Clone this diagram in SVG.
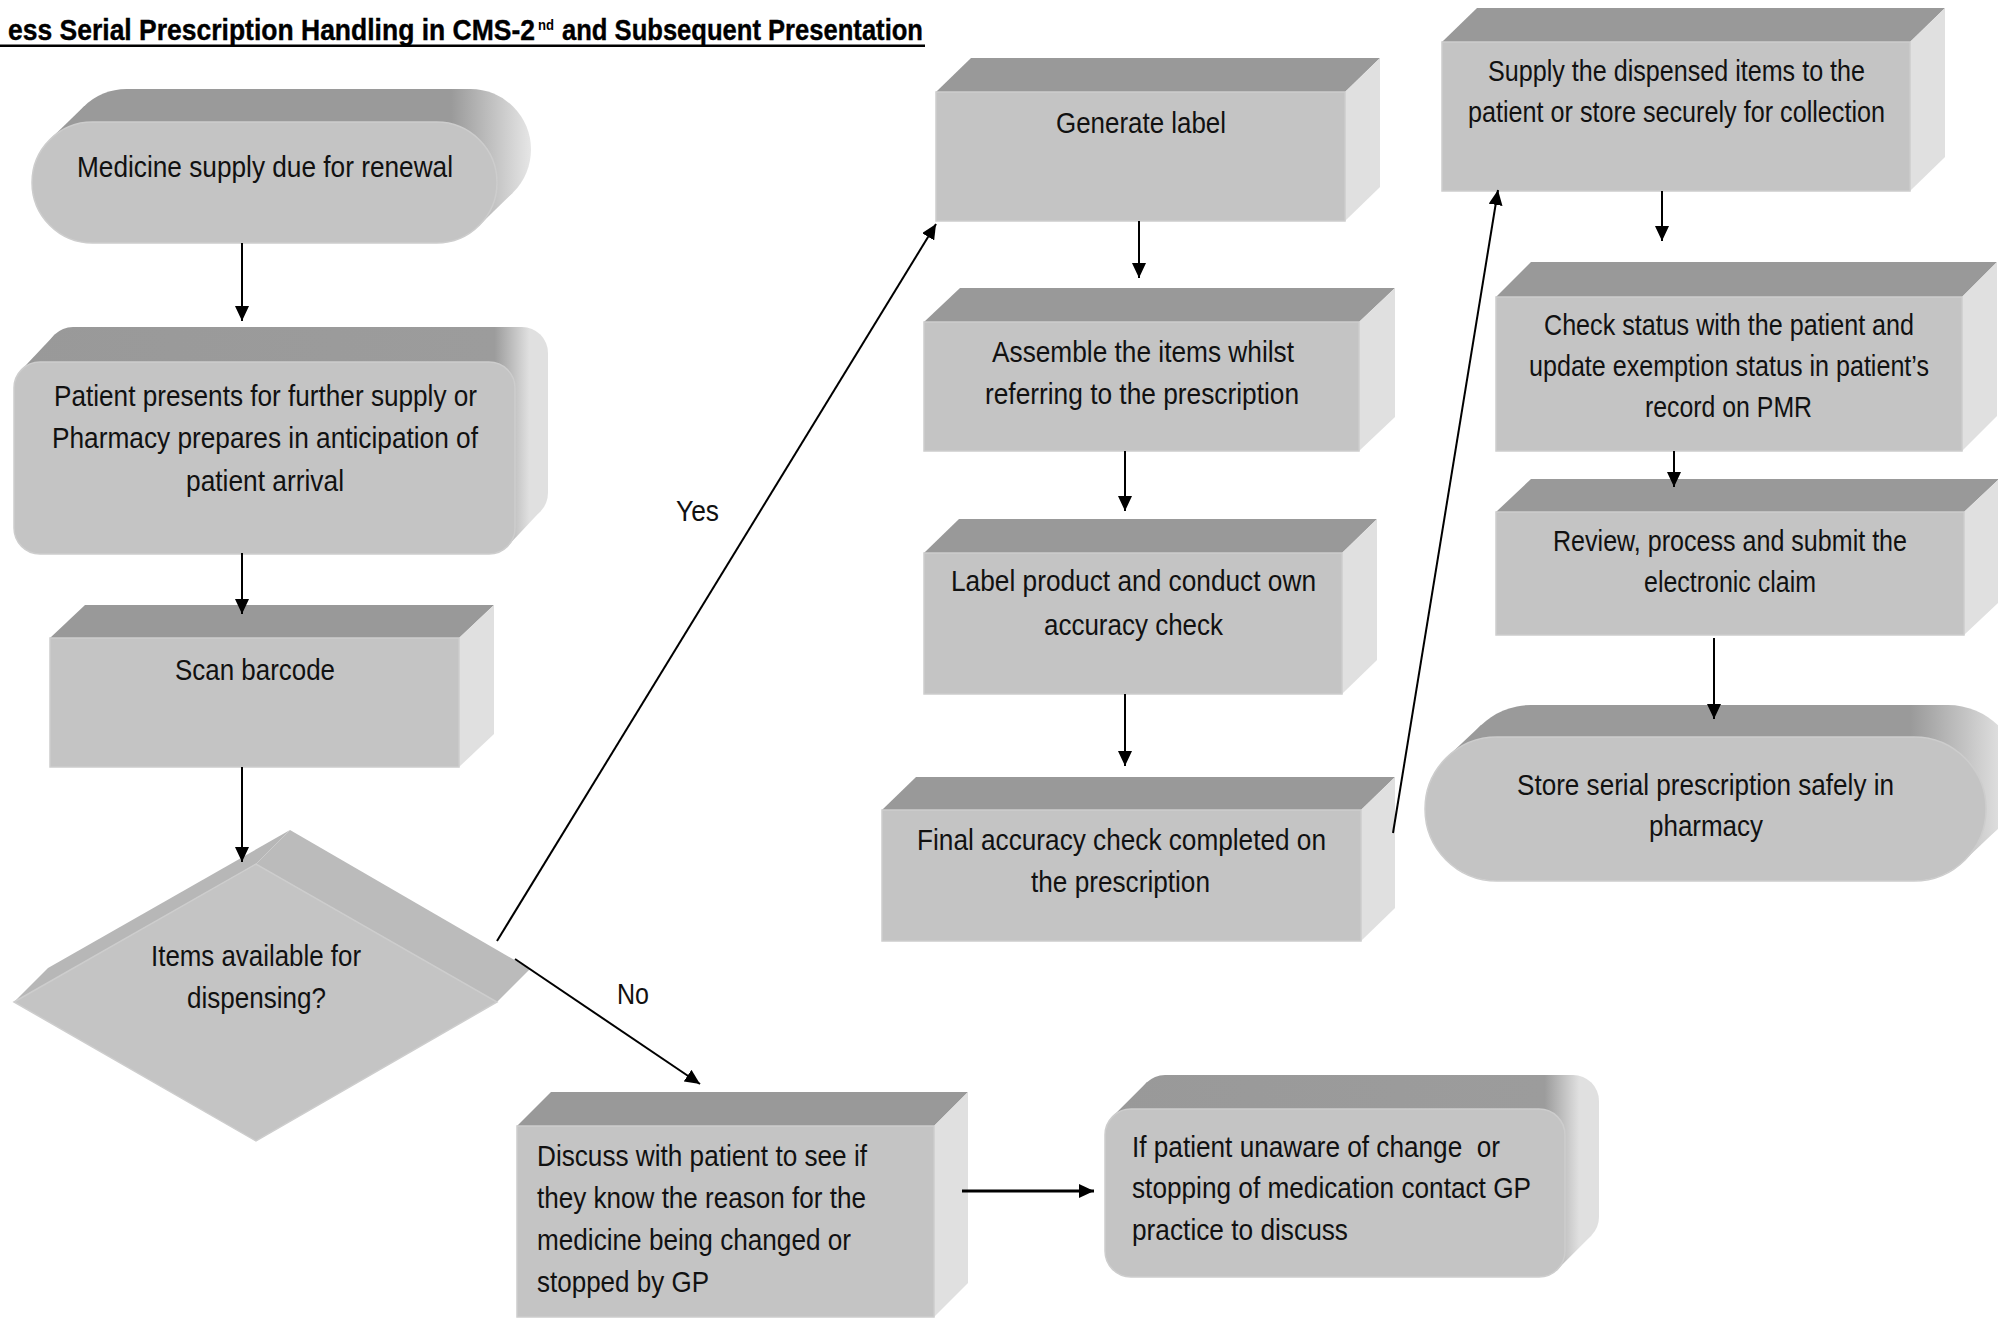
<svg xmlns="http://www.w3.org/2000/svg" width="1998" height="1318" viewBox="0 0 1998 1318">
<defs>
<style>
.top{fill:#999999}
.side{fill:#e0e0e0}
.front{fill:#c4c4c4;stroke:#cdcdcd;stroke-width:1.5}
.dface1{fill:#b7b7b7}
.dface2{fill:#bbbbbb}
.t{font-family:"Liberation Sans Narrow","Arial Narrow","Liberation Sans",Arial,sans-serif;font-size:29px;fill:#111111}
.title{font-family:"Liberation Sans Narrow","Arial Narrow","Liberation Sans",Arial,sans-serif;font-size:23.5px;font-weight:bold;fill:#000000;stroke:#000000;stroke-width:0.3}
.sup{font-family:"Liberation Sans Narrow","Arial Narrow","Liberation Sans",Arial,sans-serif;font-size:14px;font-weight:bold;fill:#000000}
.c{stroke:#000000;stroke-width:2;fill:none;marker-end:url(#ah)}
.c3{stroke:#000000;stroke-width:3;fill:none;marker-end:url(#ah)}
</style>
<marker id="ah" markerUnits="userSpaceOnUse" markerWidth="16" markerHeight="14" refX="15" refY="7" orient="auto">
<path d="M0,0 L15,7 L0,14 Z" fill="#000000"/>
</marker>
<linearGradient id="gMed" gradientUnits="userSpaceOnUse" x1="32" y1="0" x2="531" y2="0">
<stop offset="0" stop-color="#9a9a9a"/><stop offset="0.84" stop-color="#9a9a9a"/><stop offset="1" stop-color="#e6e6e6"/>
</linearGradient>
<linearGradient id="gStore" gradientUnits="userSpaceOnUse" x1="1425" y1="0" x2="2010" y2="0">
<stop offset="0" stop-color="#9a9a9a"/><stop offset="0.83" stop-color="#9a9a9a"/><stop offset="1" stop-color="#e6e6e6"/>
</linearGradient>
<linearGradient id="gPat" gradientUnits="userSpaceOnUse" x1="14" y1="0" x2="548" y2="0">
<stop offset="0" stop-color="#999999"/><stop offset="0.9" stop-color="#9c9c9c"/><stop offset="0.965" stop-color="#e0e0e0"/><stop offset="1" stop-color="#e0e0e0"/>
</linearGradient>
<linearGradient id="gIf" gradientUnits="userSpaceOnUse" x1="1105" y1="0" x2="1599" y2="0">
<stop offset="0" stop-color="#999999"/><stop offset="0.89" stop-color="#9c9c9c"/><stop offset="0.96" stop-color="#e0e0e0"/><stop offset="1" stop-color="#e0e0e0"/>
</linearGradient>
</defs>
<rect x="0" y="0" width="1998" height="1318" fill="#ffffff"/>

<g id="title">
<text class="title" transform="translate(8,40) scale(1,1.277)" x="0" y="0" textLength="527" lengthAdjust="spacingAndGlyphs">ess Serial Prescription Handling in CMS-2</text>
<text class="sup" x="538" y="30" textLength="16" lengthAdjust="spacingAndGlyphs">nd</text>
<text class="title" transform="translate(562,40) scale(1,1.277)" x="0" y="0" textLength="361" lengthAdjust="spacingAndGlyphs">and Subsequent Presentation</text>
<rect x="0" y="44.5" width="925" height="2.5" fill="#000000"/>
</g>

<g id="n-medicine">
<rect x="66" y="89" width="465" height="121" rx="60.5" fill="url(#gMed)"/>
<polygon points="50.4,139.1 84.4,106.1 512.6,192.9 478.6,225.9" fill="url(#gMed)"/>
<rect class="front" x="32" y="122" width="465" height="121" rx="60.5"/>
<text class="t" x="77" y="177" textLength="376" lengthAdjust="spacingAndGlyphs">Medicine supply due for renewal</text>
</g>

<g id="n-patient">
<rect x="47" y="327" width="501" height="192" rx="26" fill="url(#gPat)"/>
<polygon points="21.1,370.2 54.1,335.2 540.9,510.8 507.9,545.8" fill="url(#gPat)"/>
<rect class="front" x="14" y="362" width="501" height="192" rx="26"/>
<text class="t" x="54" y="406" textLength="423" lengthAdjust="spacingAndGlyphs">Patient presents for further supply or</text>
<text class="t" x="52" y="448" textLength="426" lengthAdjust="spacingAndGlyphs">Pharmacy prepares in anticipation of</text>
<text class="t" x="186" y="491" textLength="158" lengthAdjust="spacingAndGlyphs">patient arrival</text>
</g>

<g id="n-scan">
<polygon class="top" points="50,638 85,605 494,605 459,638"/>
<polygon class="side" points="459,638 494,605 494,734 459,767"/>
<rect class="front" x="50" y="638" width="409" height="129"/>
<text class="t" x="175" y="680" textLength="160" lengthAdjust="spacingAndGlyphs">Scan barcode</text>
</g>

<g id="n-decision">
<polygon class="dface1" points="14,1002 48,968 290,830 256,864"/>
<polygon class="dface2" points="256,864 290,830 530,969 497,1002"/>
<polygon class="front" points="14,1002 256,864 497,1002 256,1141"/>
<text class="t" x="151" y="966" textLength="210" lengthAdjust="spacingAndGlyphs">Items available for</text>
<text class="t" x="187" y="1008" textLength="139" lengthAdjust="spacingAndGlyphs">dispensing?</text>
</g>

<g id="n-discuss">
<polygon class="top" points="517,1126 551,1092 968,1092 934,1126"/>
<polygon class="side" points="934,1126 968,1092 968,1283 934,1317"/>
<rect class="front" x="517" y="1126" width="417" height="191"/>
<text class="t" x="537" y="1166" textLength="330" lengthAdjust="spacingAndGlyphs">Discuss with patient to see if</text>
<text class="t" x="537" y="1208" textLength="329" lengthAdjust="spacingAndGlyphs">they know the reason for the</text>
<text class="t" x="537" y="1250" textLength="314" lengthAdjust="spacingAndGlyphs">medicine being changed or</text>
<text class="t" x="537" y="1292" textLength="172" lengthAdjust="spacingAndGlyphs">stopped by GP</text>
</g>

<g id="n-contactgp">
<rect x="1139" y="1075" width="460" height="168" rx="26" fill="url(#gIf)"/>
<polygon points="1112.6,1116.6 1146.6,1082.6 1591.4,1235.4 1557.4,1269.4" fill="url(#gIf)"/>
<rect class="front" x="1105" y="1109" width="460" height="168" rx="26"/>
<text class="t" x="1132" y="1157" textLength="368" lengthAdjust="spacingAndGlyphs" style="white-space:pre">If patient unaware of change  or</text>
<text class="t" x="1132" y="1198" textLength="399" lengthAdjust="spacingAndGlyphs">stopping of medication contact GP</text>
<text class="t" x="1132" y="1240" textLength="216" lengthAdjust="spacingAndGlyphs">practice to discuss</text>
</g>

<g id="n-generate">
<polygon class="top" points="936,92 971,58 1380,58 1345,92"/>
<polygon class="side" points="1345,92 1380,58 1380,187 1345,221"/>
<rect class="front" x="936" y="92" width="409" height="129"/>
<text class="t" x="1056" y="133" textLength="170" lengthAdjust="spacingAndGlyphs">Generate label</text>
</g>

<g id="n-assemble">
<polygon class="top" points="924,322 960,288 1395,288 1359,322"/>
<polygon class="side" points="1359,322 1395,288 1395,417 1359,451"/>
<rect class="front" x="924" y="322" width="435" height="129"/>
<text class="t" x="992" y="362" textLength="302" lengthAdjust="spacingAndGlyphs">Assemble the items whilst</text>
<text class="t" x="985" y="404" textLength="314" lengthAdjust="spacingAndGlyphs">referring to the prescription</text>
</g>

<g id="n-labelcheck">
<polygon class="top" points="924,553 959,519 1377,519 1342,553"/>
<polygon class="side" points="1342,553 1377,519 1377,660 1342,694"/>
<rect class="front" x="924" y="553" width="418" height="141"/>
<text class="t" x="951" y="591" textLength="365" lengthAdjust="spacingAndGlyphs">Label product and conduct own</text>
<text class="t" x="1044" y="635" textLength="179" lengthAdjust="spacingAndGlyphs">accuracy check</text>
</g>

<g id="n-final">
<polygon class="top" points="882,810 916,777 1395,777 1361,810"/>
<polygon class="side" points="1361,810 1395,777 1395,908 1361,941"/>
<rect class="front" x="882" y="810" width="479" height="131"/>
<text class="t" x="917" y="850" textLength="409" lengthAdjust="spacingAndGlyphs">Final accuracy check completed on</text>
<text class="t" x="1031" y="892" textLength="179" lengthAdjust="spacingAndGlyphs">the prescription</text>
</g>

<g id="n-supply">
<polygon class="top" points="1442,42 1477,8 1945,8 1910,42"/>
<polygon class="side" points="1910,42 1945,8 1945,157 1910,191"/>
<rect class="front" x="1442" y="42" width="468" height="149"/>
<text class="t" x="1488" y="81" textLength="377" lengthAdjust="spacingAndGlyphs">Supply the dispensed items to the</text>
<text class="t" x="1468" y="122" textLength="417" lengthAdjust="spacingAndGlyphs">patient or store securely for collection</text>
</g>

<g id="n-checkstatus">
<polygon class="top" points="1496,297 1531,262 1997,262 1962,297"/>
<polygon class="side" points="1962,297 1997,262 1997,416 1962,451"/>
<rect class="front" x="1496" y="297" width="466" height="154"/>
<text class="t" x="1544" y="335" textLength="370" lengthAdjust="spacingAndGlyphs">Check status with the patient and</text>
<text class="t" x="1529" y="376" textLength="400" lengthAdjust="spacingAndGlyphs">update exemption status in patient’s</text>
<text class="t" x="1645" y="417" textLength="167" lengthAdjust="spacingAndGlyphs">record on PMR</text>
</g>

<g id="n-review">
<polygon class="top" points="1496,512 1531,479 1999,479 1964,512"/>
<polygon class="side" points="1964,512 1999,479 1999,602 1964,635"/>
<rect class="front" x="1496" y="512" width="468" height="123"/>
<text class="t" x="1553" y="551" textLength="354" lengthAdjust="spacingAndGlyphs">Review, process and submit the</text>
<text class="t" x="1644" y="592" textLength="172" lengthAdjust="spacingAndGlyphs">electronic claim</text>
</g>

<g id="n-store">
<rect x="1459" y="705" width="561" height="144" rx="72" fill="url(#gStore)"/>
<polygon points="1446.9,757.3 1480.9,725.3 1998.1,828.7 1964.1,860.7" fill="url(#gStore)"/>
<rect class="front" x="1425" y="737" width="561" height="144" rx="72"/>
<text class="t" x="1517" y="795" textLength="377" lengthAdjust="spacingAndGlyphs">Store serial prescription safely in</text>
<text class="t" x="1649" y="836" textLength="114" lengthAdjust="spacingAndGlyphs">pharmacy</text>
</g>

<g id="connectors">
<line class="c" x1="242" y1="243" x2="242" y2="321"/>
<line class="c" x1="242" y1="553" x2="242" y2="614"/>
<line class="c" x1="242" y1="767" x2="242" y2="862"/>
<line class="c" x1="497" y1="941" x2="936" y2="224"/>
<line class="c" x1="515" y1="959" x2="700" y2="1084"/>
<line class="c" x1="1139" y1="221" x2="1139" y2="278"/>
<line class="c" x1="1125" y1="451" x2="1125" y2="511"/>
<line class="c" x1="1125" y1="694" x2="1125" y2="766"/>
<line class="c" x1="1393" y1="833" x2="1498" y2="190"/>
<line class="c" x1="1662" y1="191" x2="1662" y2="241"/>
<line class="c" x1="1674" y1="451" x2="1674" y2="487"/>
<line class="c" x1="1714" y1="638" x2="1714" y2="719"/>
<line class="c3" x1="962" y1="1191" x2="1094" y2="1191"/>
<text class="t" x="676" y="521" textLength="43" lengthAdjust="spacingAndGlyphs">Yes</text>
<text class="t" x="617" y="1004" textLength="32" lengthAdjust="spacingAndGlyphs">No</text>
</g>
</svg>
